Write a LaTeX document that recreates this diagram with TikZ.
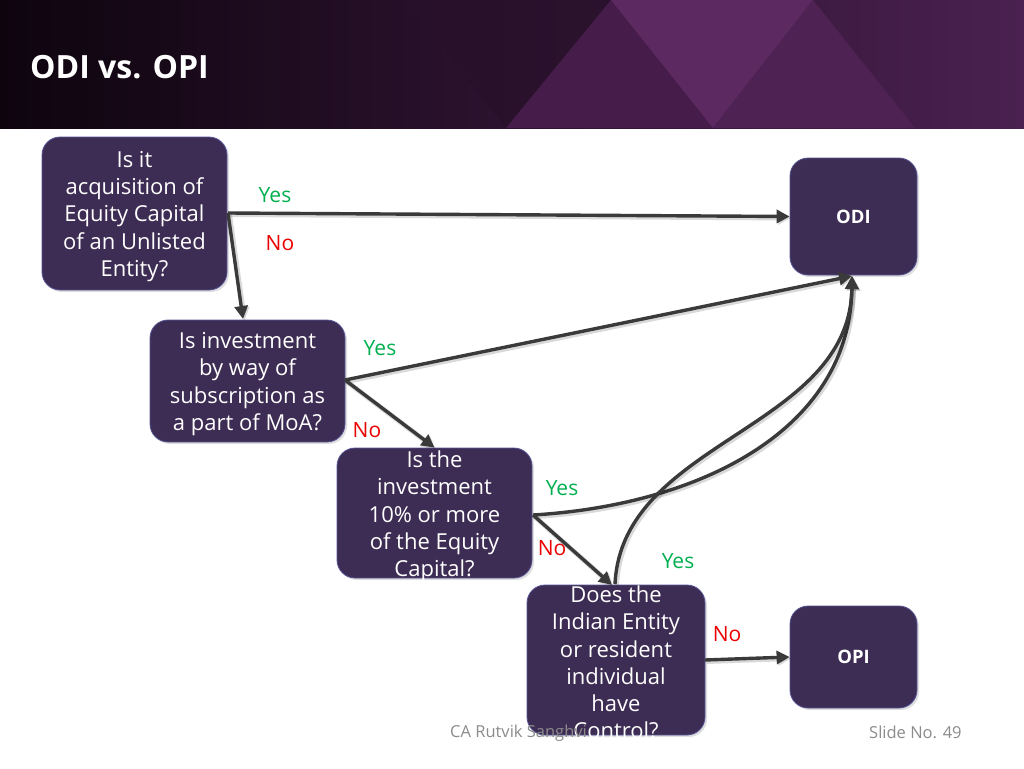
\documentclass[tikz,border=0pt]{standalone}
\usepackage{fontspec}
\setmainfont{Open Sans}
\usetikzlibrary{arrows.meta,shadows}
\definecolor{boxfill}{RGB}{61,44,83}
\definecolor{boxline}{RGB}{86,84,150}
\definecolor{conn}{RGB}{58,58,58}
\definecolor{yesg}{RGB}{0,176,80}
\definecolor{nored}{RGB}{235,0,0}
\definecolor{hdrL}{RGB}{14,4,14}
\definecolor{hdrR}{RGB}{74,33,80}
\definecolor{footgray}{RGB}{140,140,140}
\definecolor{triA}{RGB}{40,16,42}
\definecolor{triB}{RGB}{70,29,74}
\definecolor{triC}{RGB}{92,41,97}
\definecolor{triD}{RGB}{78,35,84}
\begin{document}
\begin{tikzpicture}[x=1pt,y=-1pt,
  qbox/.style={draw=boxline, line width=0.8pt, fill=boxfill, rounded corners=18pt,
    inner sep=0pt, drop shadow={opacity=0.25, shadow xshift=2pt, shadow yshift=-2pt}},
  qtext/.style={text=white, align=center, font=\fontsize{22}{27.3}\selectfont, inner sep=0pt},
  rtext/.style={text=white, font=\bfseries\fontsize{18.5}{22}\selectfont, inner sep=0pt},
  conn/.style={draw=conn, line width=3.4pt, -{Triangle[length=13pt,width=13pt]},
    preaction={draw=black, opacity=0.15, line width=5pt, transform canvas={shift={(1.5pt,-1.5pt)}}}},
  yeslab/.style={text=yesg, font=\fontsize{21}{24}\selectfont, inner sep=0pt},
  nolab/.style={text=nored, font=\fontsize{21}{24}\selectfont, inner sep=0pt}]
\useasboundingbox (0,0) rectangle (1024,768);
\fill[white] (0,0) rectangle (1024,768);
% header
\shade[left color=hdrL, right color=hdrR] (0,0) rectangle (1024,128);
\fill[triA, opacity=0.7] (405,0) -- (611,0) -- (506,128) -- cycle;
\fill[triB] (506,128) -- (611,0) -- (713,128) -- cycle;
\fill[triC] (611,0) -- (813,0) -- (713,128) -- cycle;
\fill[triD] (713,128) -- (813,0) -- (915,128) -- cycle;
\node[anchor=west, text=white, font=\bfseries\fontsize{32}{36}\selectfont, inner sep=0pt] (title) at (30,67) {ODI vs. OPI};
% boxes
\node[qbox, minimum width=185pt, minimum height=153pt] (A) at (134.5,213.5) {};
\node[qtext] (At) at (134.5,216.5) {Is it\\acquisition of\\Equity Capital\\of an Unlisted\\Entity?};
\node[qbox, minimum width=195pt, minimum height=122pt] (B) at (247.5,381) {};
\node[qtext] (Bt) at (247.5,384) {Is investment\\by way of\\subscription as\\a part of MoA?};
\node[qbox, minimum width=195pt, minimum height=130pt] (C) at (434.5,513) {};
\node[qtext] (Ct) at (434.5,516.5) {Is the\\investment\\10\% or more\\of the Equity\\Capital?};
\node[qbox, minimum width=178pt, minimum height=150pt] (D) at (616,660) {};
\node[qtext] (Dt) at (616,662.5) {Does the\\Indian Entity\\or resident\\individual\\have\\Control?};
\node[qbox, minimum width=127pt, minimum height=117pt] (ODI) at (853.5,216.5) {};
\node[rtext] (ODIt) at (ODI) {ODI};
\node[qbox, minimum width=127pt, minimum height=102pt] (OPI) at (853.5,657) {};
\node[rtext] (OPIt) at (OPI) {OPI};
% connectors
\coordinate (Ae) at (228,213);
\coordinate (Be) at (345,380);
\coordinate (Ce) at (533,515);
\coordinate (Dn) at (615,584);
\coordinate (ODIs) at (852,276);
\coordinate (Bn) at (243,319);
\coordinate (Dn2) at (612,585);
\coordinate (De) at (705,660);
\draw[conn] (Ae) -- (ODI.west);
\draw[conn] (Ae) -- (Bn);
\draw[conn] (Be) -- (ODIs);
\draw[conn] (Be) -- (C.north);
\draw[conn] (Ce) .. controls (700,505) and (850,430) .. (ODIs);
\draw[conn] (Ce) -- (Dn2);
\draw[conn] (Dn) .. controls (622,440) and (850,430) .. (ODIs);
\draw[conn] (De) -- (OPI.west);
% labels
\node[yeslab] (y1) at (275,195) {Yes};
\node[nolab] (n1) at (280,243) {No};
\node[yeslab] (y2) at (380,348) {Yes};
\node[nolab] (n2) at (367,430) {No};
\node[yeslab] (y3) at (562,488) {Yes};
\node[nolab] (n3) at (552,548) {No};
\node[yeslab] (y4) at (678,561) {Yes};
\node[nolab] (n4) at (727,634) {No};
% footer
\node[anchor=west, text=footgray, font=\fontsize{16.5}{20}\selectfont, inner sep=0pt] (f1) at (450,733) {CA Rutvik Sanghvi};
\node[anchor=west, text=footgray, font=\fontsize{16.5}{20}\selectfont, inner sep=0pt] (f2) at (869,732) {Slide No. 49};
\end{tikzpicture}
\end{document}
